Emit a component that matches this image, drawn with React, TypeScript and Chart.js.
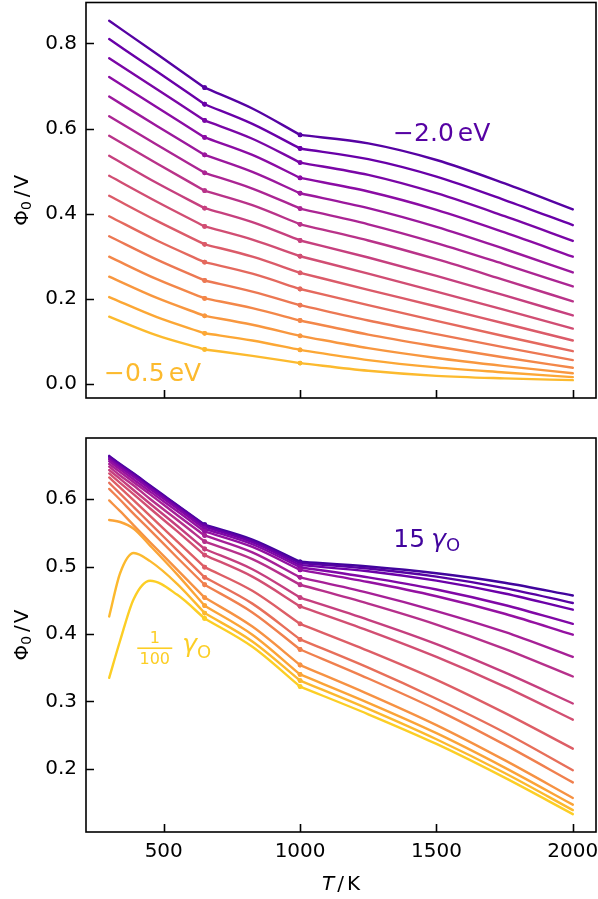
import React, { useEffect, useRef } from "react";
import { Chart, registerables } from "chart.js";
Chart.register(...registerables);

// ---------- data ----------
const breakT = [650, 1000];
const xTicks = [500, 1000, 1500, 2000];
const topYTicks = [0.0, 0.2, 0.4, 0.6, 0.8];
const botYTicks = [0.2, 0.3, 0.4, 0.5, 0.6];

// top panel: adsorption energy from -2.0 eV (first row) to -0.5 eV (last row)
const topT = [300, 475, 650, 825, 1000, 1250, 1500, 1750, 2000];
const topPhi = [
  [0.853, 0.775, 0.696, 0.647, 0.585, 0.565, 0.526, 0.471, 0.410],
  [0.810, 0.734, 0.657, 0.611, 0.553, 0.528, 0.487, 0.432, 0.373],
  [0.765, 0.692, 0.619, 0.576, 0.520, 0.491, 0.448, 0.394, 0.336],
  [0.721, 0.650, 0.579, 0.538, 0.484, 0.452, 0.409, 0.356, 0.299],
  [0.675, 0.606, 0.538, 0.498, 0.448, 0.413, 0.369, 0.317, 0.262],
  [0.629, 0.562, 0.496, 0.459, 0.412, 0.375, 0.331, 0.281, 0.229],
  [0.583, 0.518, 0.454, 0.420, 0.375, 0.337, 0.293, 0.244, 0.194],
  [0.536, 0.472, 0.413, 0.380, 0.337, 0.297, 0.254, 0.208, 0.161],
  [0.489, 0.428, 0.370, 0.339, 0.300, 0.259, 0.217, 0.174, 0.130],
  [0.442, 0.383, 0.328, 0.299, 0.261, 0.221, 0.182, 0.142, 0.102],
  [0.394, 0.337, 0.286, 0.259, 0.223, 0.185, 0.148, 0.112, 0.077],
  [0.347, 0.292, 0.243, 0.217, 0.185, 0.149, 0.117, 0.086, 0.056],
  [0.299, 0.246, 0.201, 0.178, 0.149, 0.116, 0.088, 0.062, 0.038],
  [0.252, 0.202, 0.160, 0.139, 0.113, 0.084, 0.061, 0.042, 0.025],
  [0.204, 0.157, 0.119, 0.102, 0.080, 0.056, 0.039, 0.027, 0.016],
  [0.158, 0.114, 0.081, 0.066, 0.049, 0.031, 0.019, 0.013, 0.009],
];

// bottom panel: gamma_O from 15 (first row) to 1/100 (last row)
const botT = [300, 340, 390, 450, 550, 650, 825, 1000, 1250, 1500, 1750, 2000];
const botPhi = [
  [0.664, 0.652, 0.638, 0.620, 0.591, 0.562, 0.540, 0.507, 0.500, 0.490, 0.476, 0.457],
  [0.663, 0.651, 0.637, 0.619, 0.590, 0.561, 0.538, 0.505, 0.497, 0.485, 0.468, 0.446],
  [0.661, 0.649, 0.635, 0.617, 0.588, 0.559, 0.536, 0.502, 0.493, 0.479, 0.460, 0.436],
  [0.659, 0.647, 0.633, 0.615, 0.586, 0.556, 0.533, 0.499, 0.484, 0.466, 0.443, 0.415],
  [0.656, 0.644, 0.629, 0.611, 0.582, 0.552, 0.529, 0.495, 0.477, 0.456, 0.430, 0.399],
  [0.652, 0.640, 0.625, 0.607, 0.576, 0.546, 0.521, 0.484, 0.461, 0.434, 0.403, 0.366],
  [0.648, 0.635, 0.620, 0.600, 0.569, 0.537, 0.511, 0.473, 0.445, 0.414, 0.378, 0.337],
  [0.643, 0.630, 0.613, 0.593, 0.560, 0.526, 0.496, 0.454, 0.421, 0.385, 0.343, 0.297],
  [0.638, 0.624, 0.607, 0.586, 0.552, 0.517, 0.485, 0.441, 0.405, 0.366, 0.322, 0.273],
  [0.632, 0.617, 0.598, 0.575, 0.537, 0.499, 0.464, 0.415, 0.375, 0.332, 0.283, 0.230],
  [0.624, 0.608, 0.588, 0.564, 0.524, 0.484, 0.445, 0.392, 0.350, 0.304, 0.254, 0.198],
  [0.615, 0.599, 0.578, 0.554, 0.513, 0.473, 0.432, 0.377, 0.334, 0.288, 0.236, 0.180],
  [0.598, 0.582, 0.561, 0.536, 0.495, 0.454, 0.411, 0.354, 0.311, 0.265, 0.213, 0.157],
  [0.569, 0.566, 0.556, 0.531, 0.488, 0.442, 0.399, 0.340, 0.298, 0.253, 0.202, 0.147],
  [0.426, 0.490, 0.520, 0.508, 0.474, 0.431, 0.389, 0.331, 0.289, 0.244, 0.194, 0.139],
  [0.335, 0.390, 0.452, 0.479, 0.458, 0.423, 0.381, 0.322, 0.281, 0.237, 0.187, 0.133],
];

// ---------- styling helpers ----------
const FONT = '"DejaVu Sans", sans-serif';
const PLASMA_STOPS = ["#0d0887", "#41049d", "#6a00a8", "#8f0da4", "#b12a90", "#cc4778", "#e16462", "#f2844b", "#fca636", "#fcce25", "#f0f921"];
function hexToRgb(h: string) {
  return [parseInt(h.slice(1, 3), 16), parseInt(h.slice(3, 5), 16), parseInt(h.slice(5, 7), 16)];
}
function plasma(t: number) {
  const n = PLASMA_STOPS.length - 1;
  const s = Math.max(0, Math.min(1, t)) * n;
  const i = Math.min(n - 1, Math.floor(s));
  const f = s - i;
  const a = hexToRgb(PLASMA_STOPS[i]);
  const b = hexToRgb(PLASMA_STOPS[i + 1]);
  const c = a.map((v, j) => Math.round(v + (b[j] - v) * f));
  return `rgb(${c[0]},${c[1]},${c[2]})`;
}

const TOP_T0 = 0.15, TOP_T1 = 0.85;
const BOT_T0 = 0.1, BOT_T1 = 0.9;

function buildDatasets(T: number[], rows: number[][], t0: number, t1: number) {
  const ds: any[] = [];
  const n = rows.length;
  const cuts = breakT.map((b) => T.indexOf(b));
  const bounds = [0, ...cuts, T.length - 1];
  for (let k = n - 1; k >= 0; k--) {
    const color = plasma(t0 + ((t1 - t0) * k) / (n - 1));
    for (let s = 0; s < bounds.length - 1; s++) {
      const pts: { x: number; y: number }[] = [];
      for (let i = bounds[s]; i <= bounds[s + 1]; i++) pts.push({ x: T[i], y: rows[k][i] });
      ds.push({
        data: pts,
        borderColor: color,
        backgroundColor: color,
        pointBackgroundColor: color,
        pointBorderWidth: 0,
        borderWidth: 2.4,
        borderCapStyle: "round",
        pointRadius: (c: any) => (c.raw && breakT.includes(c.raw.x) ? 2.4 : 0),
        cubicInterpolationMode: "monotone",
        fill: false,
      });
    }
  }
  return ds;
}

type Run = { t?: string; size?: number; italic?: boolean; dy?: number; gap?: number };
function runsWidth(ctx: CanvasRenderingContext2D, runs: Run[]) {
  let w = 0;
  for (const r of runs) {
    if (r.gap) { w += r.gap; continue; }
    ctx.font = `${r.italic ? "italic " : ""}${r.size}px ${FONT}`;
    w += ctx.measureText(r.t || "").width;
  }
  return w;
}
function drawRuns(ctx: CanvasRenderingContext2D, runs: Run[], x: number, y: number, color: string) {
  ctx.fillStyle = color;
  ctx.textBaseline = "alphabetic";
  ctx.textAlign = "left";
  let cx = x;
  for (const r of runs) {
    if (r.gap) { cx += r.gap; continue; }
    ctx.font = `${r.italic ? "italic " : ""}${r.size}px ${FONT}`;
    ctx.fillText(r.t || "", cx, y + (r.dy || 0));
    cx += ctx.measureText(r.t || "").width;
  }
}

const yTitleRuns: Run[] = [
  { t: "Φ", size: 20 }, { t: "0", size: 14, dy: 3 }, { gap: 4 }, { t: "/", size: 20 }, { gap: 2 }, { t: "V", size: 20 },
];
const xTitleRuns: Run[] = [
  { t: "T", size: 20, italic: true }, { gap: 3 }, { t: "/", size: 20 }, { gap: 3 }, { t: "K", size: 20 },
];

function zeroPad(s: any) {
  s.paddingTop = 0;
  s.paddingBottom = 0;
  s.paddingLeft = 0;
  s.paddingRight = 0;
}

function framePlugin(yTicks: number[]) {
  return {
    id: "frame",
    afterDraw(chart: any) {
      const { ctx, chartArea: a, scales } = chart;
      ctx.save();
      ctx.strokeStyle = "#000";
      ctx.lineWidth = 1.6;
      ctx.beginPath();
      for (const v of yTicks) {
        const p = Math.round(scales.y.getPixelForValue(v)) + 0.5;
        ctx.moveTo(a.left, p);
        ctx.lineTo(a.left + 8, p);
      }
      for (const v of xTicks) {
        const p = Math.round(scales.x.getPixelForValue(v)) + 0.5;
        ctx.moveTo(p, a.bottom);
        ctx.lineTo(p, a.bottom - 8);
      }
      ctx.stroke();
      ctx.strokeRect(a.left, a.top, a.right - a.left, a.bottom - a.top);
      // y axis title
      const cy = (a.top + a.bottom) / 2;
      const w = runsWidth(ctx, yTitleRuns);
      ctx.translate(28, cy);
      ctx.rotate(-Math.PI / 2);
      drawRuns(ctx, yTitleRuns, -w / 2, 0, "#000");
      ctx.restore();
    },
  };
}

const topLabels = {
  id: "topLabels",
  afterDraw(chart: any) {
    const { ctx, scales } = chart;
    ctx.save();
    const r1: Run[] = [{ t: "−2.0", size: 25 }, { gap: 4 }, { t: "eV", size: 25 }];
    drawRuns(ctx, r1, scales.x.getPixelForValue(1341), scales.y.getPixelForValue(0.571), plasma(TOP_T0));
    const r2: Run[] = [{ t: "−0.5", size: 25 }, { gap: 4 }, { t: "eV", size: 25 }];
    drawRuns(ctx, r2, scales.x.getPixelForValue(281), scales.y.getPixelForValue(0.007), plasma(TOP_T1));
    ctx.restore();
  },
};

const botLabels = {
  id: "botLabels",
  afterDraw(chart: any) {
    const { ctx, scales, chartArea: a } = chart;
    ctx.save();
    const r1: Run[] = [{ t: "15", size: 25 }, { gap: 6 }, { t: "γ", size: 25, italic: true }, { t: "O", size: 18, dy: 3.5 }];
    drawRuns(ctx, r1, scales.x.getPixelForValue(1342), scales.y.getPixelForValue(0.5286), plasma(BOT_T0));
    // fraction 1/100 gamma_O
    const col = plasma(BOT_T1);
    const x0 = scales.x.getPixelForValue(403);
    const y0 = scales.y.getPixelForValue(0.3789);
    const bw = 35;
    ctx.fillStyle = col;
    ctx.fillRect(x0, y0 - 0.8, bw, 1.6);
    ctx.font = `16px ${FONT}`;
    ctx.textAlign = "center";
    ctx.textBaseline = "alphabetic";
    ctx.fillText("1", x0 + bw / 2, y0 - 5.6);
    ctx.fillText("100", x0 + bw / 2, y0 + 16);
    const r2: Run[] = [{ t: "γ", size: 25, italic: true }, { t: "O", size: 18, dy: 6 }];
    drawRuns(ctx, r2, x0 + bw + 10, y0 + 3.5, col);
    // x axis title
    const w = runsWidth(ctx, xTitleRuns);
    drawRuns(ctx, xTitleRuns, (a.left + a.right) / 2 - w / 2, 470, "#000");
    ctx.restore();
  },
};

function makeConfig(T: number[], rows: number[][], t0: number, t1: number, yMin: number, yMax: number, yTicks: number[], showX: boolean, padTop: number, xHeight: number, labels: any) {
  return {
    type: "line",
    data: { datasets: buildDatasets(T, rows, t0, t1) },
    options: {
      animation: false,
      responsive: true,
      maintainAspectRatio: false,
      devicePixelRatio: 1,
      events: [],
      layout: { autoPadding: false, padding: { top: padTop, right: 2, left: 0, bottom: 0 } },
      plugins: { legend: { display: false }, tooltip: { enabled: false }, title: { display: false } },
      scales: {
        x: {
          type: "linear",
          min: 215,
          max: 2085,
          afterBuildTicks: (s: any) => { s.ticks = xTicks.map((v) => ({ value: v })); },
          afterFit: (s: any) => { s.height = xHeight; zeroPad(s); },
          ticks: { display: showX, color: "#000", font: { family: FONT, size: 20 }, padding: 8, maxRotation: 0, autoSkip: false, callback: (v: any) => String(v) },
          grid: { display: false, drawTicks: false },
          border: { display: false },
        },
        y: {
          type: "linear",
          min: yMin,
          max: yMax,
          afterBuildTicks: (s: any) => { s.ticks = yTicks.map((v) => ({ value: v })); },
          afterFit: (s: any) => { s.width = 86; zeroPad(s); },
          ticks: { color: "#000", font: { family: FONT, size: 20 }, padding: 9, autoSkip: false, callback: (v: any) => Number(v).toFixed(1) },
          grid: { display: false, drawTicks: false },
          border: { display: false },
        },
      },
    },
    plugins: [framePlugin(yTicks), labels],
  };
}

export default function App() {
  const topRef = useRef<HTMLCanvasElement>(null);
  const botRef = useRef<HTMLCanvasElement>(null);
  useEffect(() => {
    const c1 = new Chart(topRef.current as HTMLCanvasElement, makeConfig(topT, topPhi, TOP_T0, TOP_T1, -0.033, 0.896, topYTicks, false, 2.5, 22, topLabels) as any);
    const c2 = new Chart(botRef.current as HTMLCanvasElement, makeConfig(botT, botPhi, BOT_T0, BOT_T1, 0.1065, 0.6905, botYTicks, true, 18, 67, botLabels) as any);
    return () => { c1.destroy(); c2.destroy(); };
  }, []);
  return (
    <div style={{ position: "absolute", left: 0, top: 0, width: 598, height: 899, background: "#fff" }}>
      <div style={{ position: "absolute", left: 0, top: 0, width: 598, height: 420 }}>
        <canvas ref={topRef} />
      </div>
      <div style={{ position: "absolute", left: 0, top: 420, width: 598, height: 479 }}>
        <canvas ref={botRef} />
      </div>
    </div>
  );
}
